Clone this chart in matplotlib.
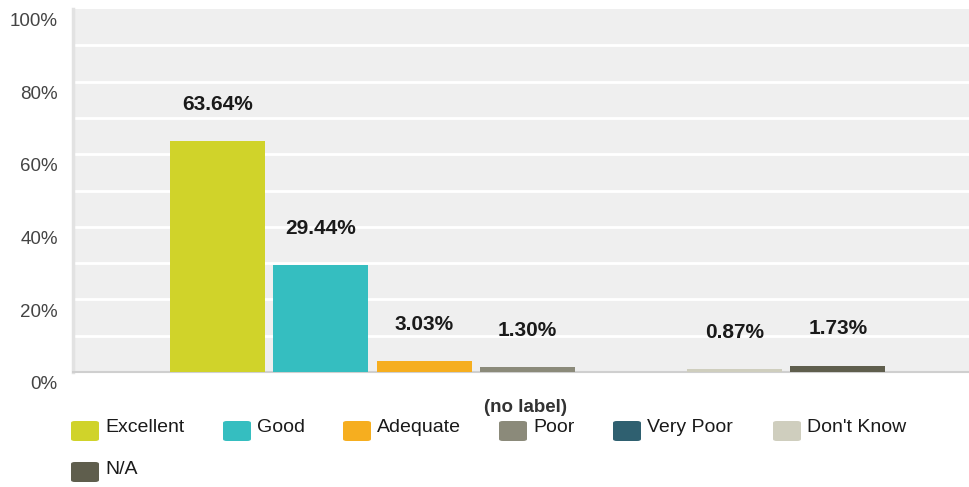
import matplotlib.pyplot as plt
from matplotlib.patches import FancyBboxPatch
import matplotlib.transforms as mtransforms
import numpy as np

plt.rcParams['font.family'] = ['Liberation Sans', 'DejaVu Sans']

categories = ['Excellent', 'Good', 'Adequate', 'Poor', 'Very Poor', "Don't Know", 'N/A']
values = [63.64, 29.44, 3.03, 1.30, 0.0, 0.87, 1.73]
value_labels = ['63.64%', '29.44%', '3.03%', '1.30%', '', '0.87%', '1.73%']
colors = ['#d0d32a', '#35bec0', '#f6ae1f', '#8b8a7a', '#2f6070', '#cfcebe', '#5f5e4d']
yticks = [0, 20, 40, 60, 80, 100]
ytick_labels = ['0%', '20%', '40%', '60%', '80%', '100%']

fig = plt.figure(figsize=(9.69, 4.87), dpi=100)
W, H = 969, 487
ax = fig.add_axes([73 / W, 1 - 372 / H, (969 - 73) / W, (372 - 9) / H])
ax.set_facecolor('#efefef')

x = np.arange(len(categories))
ax.bar(x, values, width=0.92, color=colors, zorder=3)
for xi, v, lab in zip(x, values, value_labels):
    if lab:
        ax.annotate(lab, (xi, v), xytext=(0, 26.5), textcoords='offset points',
                    ha='center', va='center', fontsize=15, fontweight='bold', color='#1a1a1a')

ax.set_xlim(-1.396, 6 + 1.27)
ax.set_ylim(0, 100)
for g in range(10, 100, 10):
    ax.axhline(g, color='white', lw=2.0, zorder=1)

ax.set_xticks([])
ax.set_yticks(yticks)
ax.set_yticklabels(ytick_labels, fontsize=13.5, color='#444444')
ax.tick_params(axis='y', length=0, pad=11)
offset = mtransforms.ScaledTranslation(0, -3 / 72, fig.dpi_scale_trans)
for t in ax.get_yticklabels():
    t.set_va('top')
    t.set_transform(t.get_transform() + offset)

for s in ['top', 'right']:
    ax.spines[s].set_visible(False)
ax.spines['left'].set_color('#e2e2e2')
ax.spines['left'].set_linewidth(2.5)
ax.spines['bottom'].set_color('#cfcfcf')
ax.spines['bottom'].set_linewidth(1.5)

fig.text(525 / W, 1 - 408 / H, '(no label)', ha='center', va='center',
         fontsize=13.5, fontweight='bold', color='#333333')

# legend, drawn by hand to match the two-row layout
legend_pos = [(71, 431), (223, 431), (343, 431), (499, 431), (613, 431), (773, 431), (71, 472)]
for (px, py), name, c in zip(legend_pos, categories, colors):
    fig.patches.append(FancyBboxPatch(((px) / W, 1 - (py + 10) / H), 28 / W, 20 / H,
                                      boxstyle='round,pad=0,rounding_size=0.004',
                                      transform=fig.transFigure, facecolor=c,
                                      edgecolor='none'))
    fig.text((px + 34) / W, 1 - (py - 3) / H, name, ha='left', va='center',
             fontsize=14, color='#1a1a1a')

fig.savefig('out.png', dpi=100)
